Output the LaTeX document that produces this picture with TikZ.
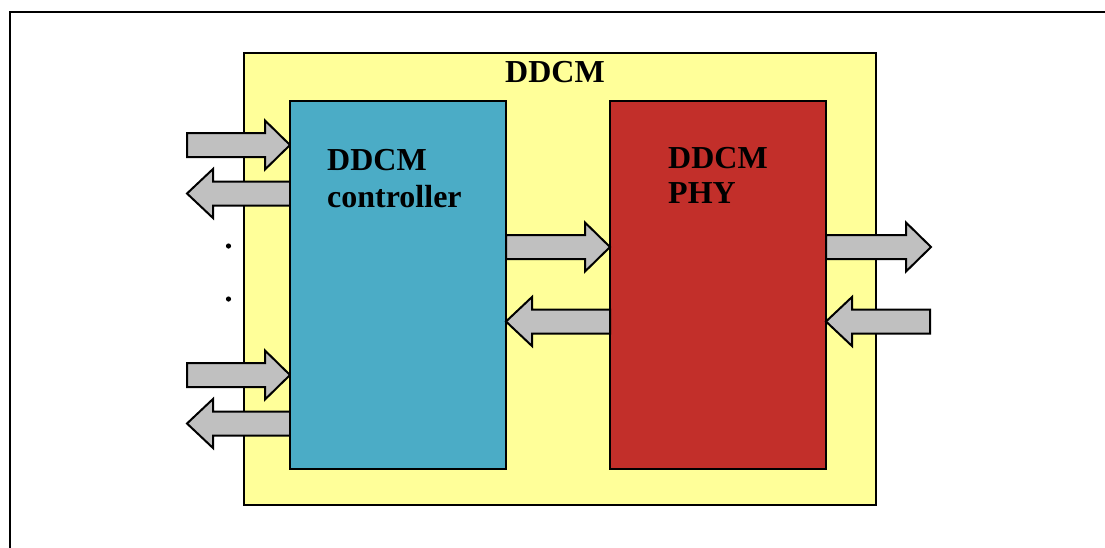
\documentclass[tikz,border=0pt]{standalone}
\usepackage{fontspec}
\setmainfont{Liberation Serif}
\definecolor{ddyellow}{HTML}{FFFF99}
\definecolor{ddblue}{HTML}{4BACC6}
\definecolor{ddred}{HTML}{C22F2A}
\definecolor{ddgrey}{HTML}{C0C0C0}
\tikzset{
  boxstyle/.style={draw=black, line width=2.2pt, inner sep=0pt, outer sep=0pt},
  blockarrow/.style={draw=black, fill=ddgrey, line width=2pt, line join=miter},
  lbl/.style={anchor=base west, inner sep=0pt, font=\fontsize{32}{37}\selectfont\bfseries}
}
\newcommand\rarr[3]{%
  \draw[blockarrow] (#1,#3-12) -- (#2-25,#3-12) -- (#2-25,#3-24.5) -- (#2,#3)
    -- (#2-25,#3+24.5) -- (#2-25,#3+12) -- (#1,#3+12) -- cycle;}
\newcommand\larr[3]{%
  \draw[blockarrow] (#2,#3-12) -- (#1+26,#3-12) -- (#1+26,#3-24.5) -- (#1,#3)
    -- (#1+26,#3+24.5) -- (#1+26,#3+12) -- (#2,#3+12) -- cycle;}
\begin{document}
\begin{tikzpicture}[x=1pt,y=-1pt]
\useasboundingbox (0,0) rectangle (1105,547);
% outer frame (only left and top edges visible)
\draw[line width=2.8pt] (10,560) -- (10,12) -- (1120,12);
% DDCM outer box
\draw[boxstyle, fill=ddyellow] (244,53) rectangle (876,505);
\coordinate (ddcm) at (244,53);
\node[lbl] (ddcmlbl) at (505,82) {DDCM};
% arrows on left side (drawn before controller)
\rarr{187}{290}{145}
\larr{187}{290}{193.5}
\rarr{187}{290}{375}
\larr{187}{290}{423.5}
% controller
\draw[boxstyle, fill=ddblue] (290,101) rectangle (506,469);
\node[lbl] (ctrl1) at (327,170) {DDCM};
\node[lbl] (ctrl2) at (327,207) {controller};
% PHY
\draw[boxstyle, fill=ddred] (610,101) rectangle (826,469);
\node[lbl] (phy1) at (668,168) {DDCM};
\node[lbl] (phy2) at (668,203) {PHY};
% middle arrows
\rarr{506}{610}{247}
\larr{506}{610}{321.5}
% right arrows
\rarr{826}{931}{247}
\larr{826}{930}{321.5}
% dots
\fill (228.5,246) circle (2.6pt);
\fill (228.5,299) circle (2.6pt);
\end{tikzpicture}
\end{document}
